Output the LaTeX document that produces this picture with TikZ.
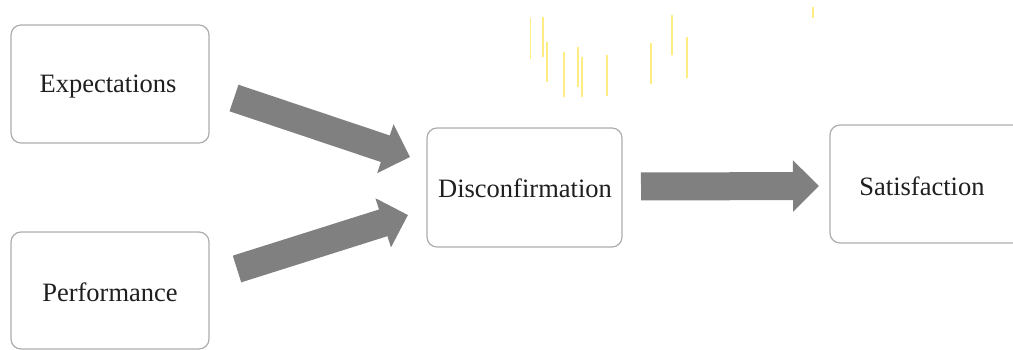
\documentclass[tikz,border=0pt]{standalone}
\usepackage{fontspec}
\setmainfont{Liberation Serif}
\usetikzlibrary{arrows.meta}
\definecolor{glitchyellow}{RGB}{255,236,130}
\definecolor{arrowgray}{RGB}{128,128,128}
\begin{document}
\begin{tikzpicture}[x=1pt,y=-1pt,
  boxstyle/.style={draw=black!32, line width=1.2pt, rounded corners=10pt, fill=white},
  lbl/.style={font=\fontsize{26.5}{30}\selectfont, text=black!88, inner sep=0pt, anchor=center},
  fatarrow/.style={draw=arrowgray, line width=28pt,
     -{Triangle[length=26pt,width=50pt]}},
  glitch/.style={draw=glitchyellow, line width=1.5pt}]
\useasboundingbox (0,0) rectangle (1013,350);
% boxes
\draw[boxstyle] (11,25) rectangle (209,143);
\draw[boxstyle] (11,232) rectangle (209,349);
\draw[boxstyle] (427,128) rectangle (622,247);
\draw[boxstyle] (830,125) rectangle (1030,243);
% labels
\node[lbl] (exp) at (108,87) {Expectations};
\node[lbl] (perf) at (110,292) {Performance};
\node[lbl] (disc) at (525,188) {Disconfirmation};
\node[lbl] (sat) at (922,186) {Satisfaction};
% arrow endpoints
\coordinate (a1s) at (234,98);
\coordinate (a1e) at (410,157);
\coordinate (a2s) at (237,269);
\coordinate (a2e) at (408,215);
\coordinate (a3s) at (641,186.5);
\coordinate (a3e) at (819,186);
\draw[fatarrow] (a1s) -- (a1e);
\draw[fatarrow] (a2s) -- (a2e);
\draw[fatarrow] (a3s) -- (a3e);
% yellow glitch lines
\foreach \x/\a/\b in {530.7/18/59, 543/17/57, 547/42/82, 564/52/97, 578/47/87,
   582/57/97, 607/55/96, 651/43/84, 672/15/55, 687/37/78, 813/7/18}
  \draw[glitch] (\x,\a) -- (\x,\b);
\end{tikzpicture}
\end{document}
